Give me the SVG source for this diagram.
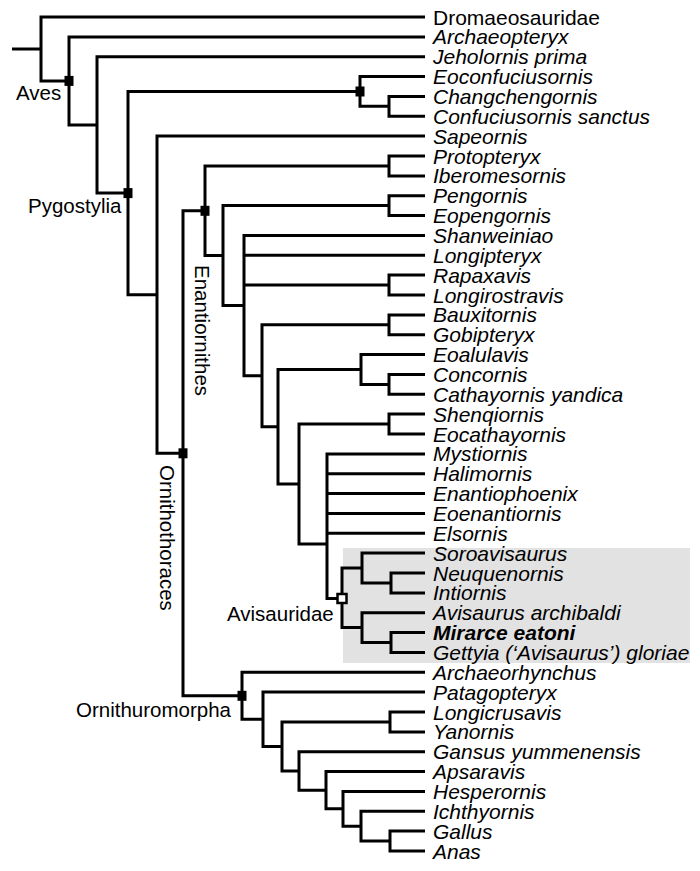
<svg xmlns="http://www.w3.org/2000/svg" width="700" height="871" viewBox="0 0 700 871">
<style>
.br{fill:none;stroke:#000;stroke-width:3;stroke-linejoin:miter;stroke-linecap:butt}
.lf{font-family:"Liberation Sans",Arial,sans-serif;font-size:21px;font-style:italic;fill:#000}
.rg{font-style:normal}
.bd{font-weight:bold}
.cl{font-family:"Liberation Sans",Arial,sans-serif;font-size:20.5px;fill:#000}
.sq{fill:#000}
.osq{fill:#fff;stroke:#000;stroke-width:2.5}
</style>
<rect id="avisauridae-box" x="343" y="548" width="347" height="115" fill="#e2e2e2"/>
<g id="connectors" class="br">
<path d="M12 49 H41"/>
<path d="M425 17 H41 V80.9 H69"/>
<path d="M425 36.9 H69 V124.9 H97"/>
<path d="M425 56.7 H97 V193.1 H128"/>
<path d="M360 91.5 H128 V294.7 H157"/>
<path d="M425 76.6 H360 V106.35 H389"/>
<path d="M425 96.4 H389 V116.3 H425"/>
<path d="M425 136.1 H157 V453.3 H183"/>
<path d="M205 210.8 H183 V695.8 H242"/>
<path d="M389 166 H205 V255.6 H223"/>
<path d="M425 156 H389 V175.9 H425"/>
<path d="M389 205.6 H223 V305.6 H244"/>
<path d="M425 195.7 H389 V215.6 H425"/>
<path d="M425 235.4 H244 V375.8 H262"/>
<path d="M244 255.3 H425"/>
<path d="M244 285 H389"/>
<path d="M425 275.1 H389 V295 H425"/>
<path d="M389 324.8 H262 V426.8 H278"/>
<path d="M425 314.9 H389 V334.7 H425"/>
<path d="M361 369.5 H278 V484 H299"/>
<path d="M425 354.6 H361 V384.4 H389"/>
<path d="M425 374.4 H389 V394.3 H425"/>
<path d="M389 424 H299 V544 H327"/>
<path d="M425 414.1 H389 V434 H425"/>
<path d="M425 453.9 H327 V598.5 H342"/>
<path d="M327 473.7 H425"/>
<path d="M327 493.6 H425"/>
<path d="M327 513.4 H425"/>
<path d="M327 533.3 H425"/>
<path d="M362 568 H342 V627.6 H362"/>
<path d="M425 553.1 H362 V583 H391"/>
<path d="M425 573 H391 V592.9 H425"/>
<path d="M425 612.7 H362 V642.5 H391"/>
<path d="M425 632.6 H391 V652.4 H425"/>
<path d="M425 672.3 H242 V719.3 H263"/>
<path d="M425 692.1 H263 V746.5 H282"/>
<path d="M390 722 H282 V771 H299"/>
<path d="M425 712 H390 V731.9 H425"/>
<path d="M425 751.7 H299 V790.2 H326"/>
<path d="M425 771.6 H326 V808.8 H343"/>
<path d="M425 791.4 H343 V826.2 H361"/>
<path d="M425 811.3 H361 V841 H390"/>
<path d="M425 831.1 H390 V851 H425"/>
</g>
<g id="node-aves"><rect class="sq" x="64.5" y="75.9" width="9" height="10"/><text class="cl" x="16" y="100">Aves</text></g>
<g id="node-pygostylia"><rect class="sq" x="123.5" y="188.1" width="9" height="10"/><text class="cl" x="28" y="213">Pygostylia</text></g>
<g id="node-confuciusornithidae"><rect class="sq" x="355.5" y="86.5" width="9" height="10"/></g>
<g id="node-enantiornithes"><rect class="sq" x="200.5" y="205.8" width="9" height="10"/><text class="cl" transform="translate(195,265) rotate(90)">Enantiornithes</text></g>
<g id="node-ornithothoraces"><rect class="sq" x="178.5" y="448.3" width="9" height="10"/><text class="cl" transform="translate(160,465) rotate(90)">Ornithothoraces</text></g>
<g id="node-ornithuromorpha"><rect class="sq" x="237.5" y="690.8" width="9" height="10"/><text class="cl" x="76" y="717">Ornithuromorpha</text></g>
<g id="node-avisauridae"><rect class="osq" x="337.5" y="594" width="9" height="9"/><text class="cl" x="227" y="621">Avisauridae</text></g>
<g id="leaves" class="lf">
<g id="t1"><text class="rg" x="433" y="24.5">Dromaeosauridae</text></g>
<g id="t2"><text x="433" y="44.4">Archaeopteryx</text></g>
<g id="t3"><text x="433" y="64.2">Jeholornis prima</text></g>
<g id="t4"><text x="433" y="84.1">Eoconfuciusornis</text></g>
<g id="t5"><text x="433" y="103.9">Changchengornis</text></g>
<g id="t6"><text x="433" y="123.8">Confuciusornis sanctus</text></g>
<g id="t7"><text x="433" y="143.6">Sapeornis</text></g>
<g id="t8"><text x="433" y="163.5">Protopteryx</text></g>
<g id="t9"><text x="433" y="183.4">Iberomesornis</text></g>
<g id="t10"><text x="433" y="203.2">Pengornis</text></g>
<g id="t11"><text x="433" y="223.1">Eopengornis</text></g>
<g id="t12"><text x="433" y="242.9">Shanweiniao</text></g>
<g id="t13"><text x="433" y="262.8">Longipteryx</text></g>
<g id="t14"><text x="433" y="282.6">Rapaxavis</text></g>
<g id="t15"><text x="433" y="302.5">Longirostravis</text></g>
<g id="t16"><text x="433" y="322.4">Bauxitornis</text></g>
<g id="t17"><text x="433" y="342.2">Gobipteryx</text></g>
<g id="t18"><text x="433" y="362.1">Eoalulavis</text></g>
<g id="t19"><text x="433" y="381.9">Concornis</text></g>
<g id="t20"><text x="433" y="401.8">Cathayornis yandica</text></g>
<g id="t21"><text x="433" y="421.6">Shenqiornis</text></g>
<g id="t22"><text x="433" y="441.5">Eocathayornis</text></g>
<g id="t23"><text x="433" y="461.4">Mystiornis</text></g>
<g id="t24"><text x="433" y="481.2">Halimornis</text></g>
<g id="t25"><text x="433" y="501.1">Enantiophoenix</text></g>
<g id="t26"><text x="433" y="520.9">Eoenantiornis</text></g>
<g id="t27"><text x="433" y="540.8">Elsornis</text></g>
<g id="t28"><text x="433" y="560.6">Soroavisaurus</text></g>
<g id="t29"><text x="433" y="580.5">Neuquenornis</text></g>
<g id="t30"><text x="433" y="600.4">Intiornis</text></g>
<g id="t31"><text x="433" y="620.2">Avisaurus archibaldi</text></g>
<g id="t32"><text class="bd" x="433" y="640.1">Mirarce eatoni</text></g>
<g id="t33"><text x="433" y="659.9">Gettyia (‘Avisaurus’) gloriae</text></g>
<g id="t34"><text x="433" y="679.8">Archaeorhynchus</text></g>
<g id="t35"><text x="433" y="699.6">Patagopteryx</text></g>
<g id="t36"><text x="433" y="719.5">Longicrusavis</text></g>
<g id="t37"><text x="433" y="739.4">Yanornis</text></g>
<g id="t38"><text x="433" y="759.2">Gansus yummenensis</text></g>
<g id="t39"><text x="433" y="779.1">Apsaravis</text></g>
<g id="t40"><text x="433" y="798.9">Hesperornis</text></g>
<g id="t41"><text x="433" y="818.8">Ichthyornis</text></g>
<g id="t42"><text x="433" y="838.6">Gallus</text></g>
<g id="t43"><text x="433" y="858.5">Anas</text></g>
</g>
</svg>
